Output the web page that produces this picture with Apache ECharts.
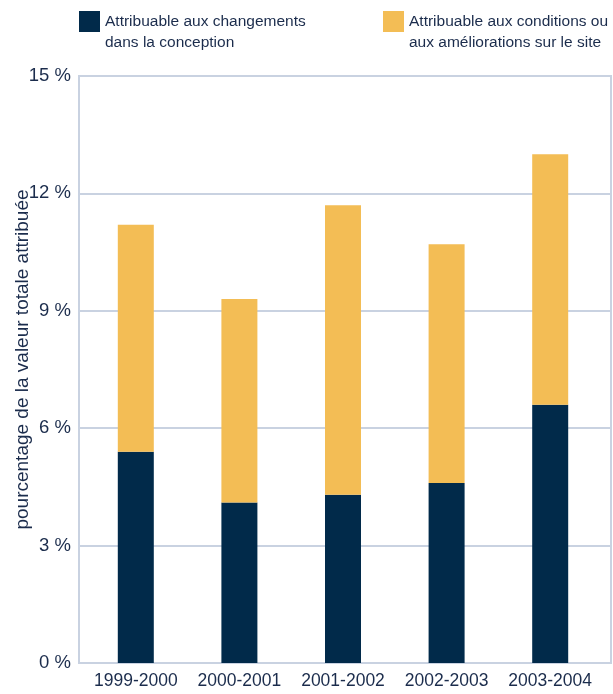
<!DOCTYPE html>
<html>
<head>
<meta charset="utf-8">
<script src="https://cdn.jsdelivr.net/npm/echarts@6/dist/echarts.min.js"></script>
<style>
html,body{margin:0;padding:0;background:#fff;}
#chart{width:613px;height:694px;}
</style>
</head>
<body>
<div id="chart"></div>
<script>
var categories = ['1999-2000', '2000-2001', '2001-2002', '2002-2003', '2003-2004'];
var designValues = [5.4, 4.1, 4.3, 4.6, 6.6];
var siteValues = [5.8, 5.2, 7.4, 6.1, 6.4];
var yTicks = [0, 3, 6, 9, 12, 15];
var seriesNames = ['Attribuable aux changements\ndans la conception', 'Attribuable aux conditions ou\naux améliorations sur le site'];

var FONT = '"Liberation Sans Narrow", "Liberation Sans", Arial, sans-serif';
var TEXT = '#1b2c4c';
var LINE = '#c9d2e1';
var NAVY = '#012a4a';
var GOLD = '#f3bd55';

var chart = echarts.init(document.getElementById('chart'));
var legendText = {fontFamily: FONT, fontSize: 15.5, color: TEXT, lineHeight: 21};
function legendFmt(name) { return '\n' + name; }
chart.setOption({
  animation: false,
  legend: [
    {data: [seriesNames[0]], left: 79, top: -10, padding: 0, itemWidth: 21, itemHeight: 21, itemGap: 0, icon: 'rect', textStyle: legendText, selectedMode: false, formatter: legendFmt},
    {data: [seriesNames[1]], left: 383, top: -10, padding: 0, itemWidth: 21, itemHeight: 21, itemGap: 0, icon: 'rect', textStyle: legendText, selectedMode: false, formatter: legendFmt}
  ],
  grid: [
    {left: 79, right: 2, top: 76, bottom: 31, show: true, borderColor: LINE, borderWidth: 2, backgroundColor: 'transparent', containLabel: false, outerBoundsMode: 'none'},
    {left: 84, right: 11, top: 76, bottom: 31, containLabel: false, outerBoundsMode: 'none'}
  ],
  xAxis: [
    {type: 'category', gridIndex: 0, data: categories, show: false},
    {type: 'category', gridIndex: 1, data: categories,
      axisLine: {show: false}, axisTick: {show: false},
      axisLabel: {interval: 0, fontFamily: FONT, fontSize: 17.5, color: TEXT, margin: 9}}
  ],
  yAxis: [
    {type: 'value', gridIndex: 0, min: yTicks[0], max: yTicks[yTicks.length - 1], interval: 3,
      name: 'pourcentage de la valeur totale attribuée', nameLocation: 'middle', nameGap: 47, nameRotate: 90, nameMoveOverlap: false,
      nameTextStyle: {fontFamily: FONT, fontSize: 19, color: TEXT, padding: [0, 0, 0, 20]},
      axisLine: {show: true, lineStyle: {color: LINE, width: 2}}, axisTick: {show: false},
      splitLine: {show: true, lineStyle: {color: LINE, width: 2}},
      axisLabel: {fontFamily: FONT, fontSize: 18.5, color: TEXT, margin: 8, formatter: function (v) { return v + ' %'; }}},
    {type: 'value', gridIndex: 1, min: yTicks[0], max: yTicks[yTicks.length - 1], interval: 3, show: false, splitLine: {show: false}}
  ],
  series: [
    {name: seriesNames[0], type: 'bar', stack: 'total', xAxisIndex: 1, yAxisIndex: 1, data: designValues, barWidth: 36, itemStyle: {color: NAVY}},
    {name: seriesNames[1], type: 'bar', stack: 'total', xAxisIndex: 1, yAxisIndex: 1, data: siteValues, barWidth: 36, itemStyle: {color: GOLD}}
  ]
});
</script>
</body>
</html>
